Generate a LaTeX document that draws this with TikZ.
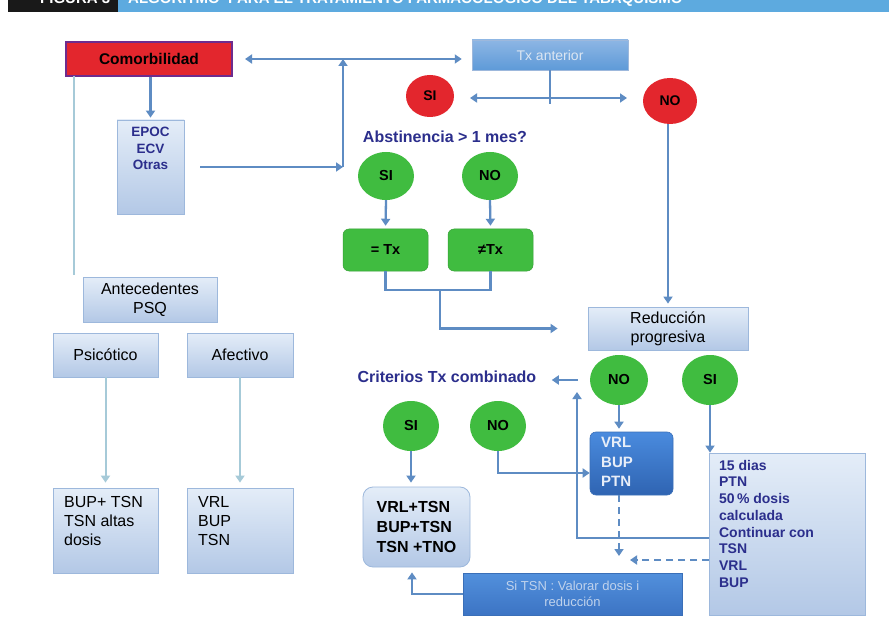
\documentclass[tikz,border=0pt]{standalone}
\usepackage{fontspec}
\setmainfont{Liberation Sans}
\usetikzlibrary{arrows.meta,shapes.geometric,calc}
\definecolor{arrc}{HTML}{5E8CC3}
\definecolor{litec}{HTML}{A6CAD8}
\definecolor{redc}{HTML}{E3262D}
\definecolor{purpc}{HTML}{6E2C8E}
\definecolor{greenc}{HTML}{40BC40}
\definecolor{dkblue}{HTML}{2B2E8C}
\definecolor{boxtop}{HTML}{E4EDF8}
\definecolor{boxbot}{HTML}{B3C8E6}
\definecolor{boxdraw}{HTML}{9DB8DC}
\definecolor{hdrblue}{HTML}{5DAADF}
\definecolor{txtop}{HTML}{8DB6E4}
\definecolor{txbot}{HTML}{5E9AD8}
\definecolor{txtext}{HTML}{DCE6F2}
\definecolor{dkdraw}{HTML}{3A6FB8}
\definecolor{vbtop}{HTML}{4A8BDE}
\definecolor{vbbot}{HTML}{2F64B2}
\definecolor{vbtext}{HTML}{E8EEF8}
\definecolor{sttop}{HTML}{5290DC}
\definecolor{stbot}{HTML}{3C74C4}
\definecolor{sttext}{HTML}{BFD2EC}
\begin{document}
\begin{tikzpicture}[x=1pt,y=-1pt,
  arr/.style={draw=arrc,line width=2.3pt,-{Triangle[length=7pt,width=9pt]}},
  arrtwo/.style={draw=arrc,line width=2.3pt,{Triangle[length=7pt,width=9pt]}-{Triangle[length=7pt,width=9pt]}},
  plainln/.style={draw=arrc,line width=2.3pt},
  lite/.style={draw=litec,line width=2pt},
  litearr/.style={draw=litec,line width=2pt,-{Triangle[length=7pt,width=9pt]}},
  lbox/.style={draw=boxdraw,line width=0.8pt,top color=boxtop,bottom color=boxbot,inner sep=2pt},
  redball/.style={ellipse,fill=redc,inner sep=0pt,font=\bfseries\fontsize{14}{16}\selectfont},
  greenball/.style={ellipse,fill=greenc,inner sep=0pt,font=\bfseries\fontsize{14.5}{16}\selectfont},
  greenbox/.style={rectangle,rounded corners=6pt,fill=greenc,draw=greenc!85!black,line width=0.5pt,font=\bfseries\fontsize{14.5}{16}\selectfont},
  qtext/.style={text=dkblue,font=\bfseries\fontsize{16}{19}\selectfont},
]
\useasboundingbox (0,0) rectangle (889,631);
\clip (0,0) rectangle (889,631);
\fill[white] (0,0) rectangle (889,631);
% header
\fill[black!90] (8,-20) rectangle (118,12);
\fill[hdrblue] (118,-20) rectangle (889,12);
\node[anchor=base west,text=white,inner sep=0pt,font=\bfseries\fontsize{15}{15}\selectfont] (fig) at (40,4) {FIGURA 3};
\node[anchor=base west,text=white,inner sep=0pt,font=\bfseries\fontsize{15}{15}\selectfont] (ttl) at (128,4) {ALGORITMO \ PARA EL TRATAMIENTO FARMACOLÓGICO DEL TABAQUISMO};

% top row
\node[rectangle,fill=redc,draw=purpc,line width=2pt,minimum width=166pt,minimum height=34pt,font=\bfseries\fontsize{15.5}{17}\selectfont] (com) at (149,59) {Comorbilidad};
\node[lbox,minimum width=67pt,minimum height=94pt,
  label={[anchor=north,yshift=-4pt,text=dkblue,align=center,font=\bfseries\fontsize{13.5}{16.5}\selectfont]north:{EPOC\\ECV\\Otras}}] (epoc) at (150.5,167) {};
\node[rectangle,draw=boxdraw,line width=0.5pt,top color=txtop,bottom color=txbot,minimum width=156pt,minimum height=30pt,text=txtext,font=\fontsize{14}{16}\selectfont] (txant) at (550,55) {Tx anterior};
\node[redball,minimum width=48pt,minimum height=42pt] (siR) at (430,96) {SI};
\node[redball,minimum width=54pt,minimum height=46pt] (noR) at (670,101) {NO};

% abstinencia
\node[qtext] (abst) at (445,137) {Abstinencia > 1 mes?};
\node[greenball,minimum width=56pt,minimum height=48pt] (siG1) at (386,176) {SI};
\node[greenball,minimum width=56pt,minimum height=48pt] (noG1) at (490,176) {NO};
\node[greenbox,minimum width=85pt,minimum height=42pt] (eqTx) at (385.5,250) {= Tx};
\node[greenbox,minimum width=85pt,minimum height=42pt] (neTx) at (490.5,250) {≠Tx};

% reduccion
\node[lbox,minimum width=160pt,minimum height=43pt,align=center,font=\fontsize{16}{19}\selectfont] (red) at (668,328.5) {Reducción\\progresiva};
\node[greenball,minimum width=58pt,minimum height=50pt] (noG2) at (619,380) {NO};
\node[greenball,minimum width=56pt,minimum height=50pt] (siG2) at (710,380) {SI};
\node[qtext,anchor=west] (crit) at (354,377) {Criterios Tx combinado};
\node[rectangle,rounded corners=6pt,draw=dkdraw,line width=0.6pt,top color=vbtop,bottom color=vbbot,minimum width=83pt,minimum height=63pt,
  label={[anchor=north west,xshift=8pt,yshift=-2pt,text=vbtext,align=left,font=\bfseries\fontsize{15}{19.5}\selectfont]north west:{VRL\\BUP\\PTN}}] (vbp) at (631.5,463.5) {};
\node[greenball,minimum width=56pt,minimum height=50pt] (siG3) at (411,426) {SI};
\node[greenball,minimum width=56pt,minimum height=50pt] (noG3) at (498,426) {NO};
\node[lbox,rounded corners=10pt,minimum width=107pt,minimum height=80pt,align=left,font=\bfseries\fontsize{16}{20}\selectfont] (vct) at (416.5,527) {VRL+TSN\\BUP+TSN\\TSN +TNO};
\node[rectangle,draw=dkdraw,line width=0.5pt,top color=sttop,bottom color=stbot,minimum width=219pt,minimum height=42pt,align=center,text=sttext,font=\fontsize{13}{16}\selectfont] (stsn) at (572.5,594) {Si TSN : Valorar dosis i\\reducción};
\node[lbox,minimum width=156pt,minimum height=162pt,
  label={[anchor=north west,xshift=7pt,yshift=-4pt,text=dkblue,align=left,font=\bfseries\fontsize{14}{16.7}\selectfont]north west:{15 dias\\PTN\\50\,\% dosis\\calculada\\Continuar con\\TSN\\VRL\\BUP}}] (dias) at (787,534) {};

% left column
\node[lbox,minimum width=134pt,minimum height=45pt,align=center,font=\fontsize{16}{19}\selectfont] (ant) at (150,299.5) {Antecedentes\\PSQ};
\node[lbox,minimum width=105pt,minimum height=44pt,font=\fontsize{16}{19}\selectfont] (psi) at (105.5,355) {Psicótico};
\node[lbox,minimum width=106pt,minimum height=44pt,font=\fontsize{16}{19}\selectfont] (afe) at (240,355) {Afectivo};
\node[lbox,minimum width=105pt,minimum height=85pt,
  label={[anchor=north west,xshift=8pt,yshift=-5pt,align=left,font=\fontsize{16}{19}\selectfont]north west:{BUP+ TSN\\TSN altas\\dosis}}] (bt) at (105.5,530.5) {};
\node[lbox,minimum width=106pt,minimum height=85pt,
  label={[anchor=north west,xshift=8pt,yshift=-5pt,align=left,font=\fontsize{16}{19}\selectfont]north west:{VRL\\BUP\\TSN}}] (vbt) at (240,530.5) {};

% coordinates
\coordinate (j1) at (343,167);
\coordinate (a1) at (470,98);
\coordinate (a2) at (627,98);
\coordinate (tk) at (550,104);
\coordinate (m) at (440,290);
\coordinate (lp) at (577,538);
\coordinate (lpt) at (577,392);
\coordinate (dj) at (619,556);
\coordinate (dd) at (709,560);
\coordinate (de) at (630,560);
\coordinate (lt) at (74,275);
\coordinate (ls) at (74,76);

% connectors
\draw[arr,shorten >=2pt] (epoc.north |- com.south) -- (epoc.north);
\draw[arr,shorten <=16pt] (epoc.east) -- (j1);
\draw[arr] (j1) -- (j1 |- com.east);
\draw[arrtwo,shorten <=12pt,shorten >=10pt] (com.east) -- (com.east -| txant.west);
\draw[arrtwo] (a1) -- (a2);
\draw[plainln] (txant.south) -- (tk);
\draw[arr,shorten >=3pt] (red.north |- noR.south) -- (red.north);
\draw[arr,shorten >=3pt] (siG1.south) -- (eqTx.north);
\draw[arr,shorten >=3pt] (noG1.south) -- (neTx.north);
\draw[plainln] (eqTx.south) |- (m) -| (neTx.south);
\draw[arr,shorten >=30pt] (m) |- (red.west);
\draw[arr,shorten >=3pt] (noG2.south) -- (noG2.south |- vbp.north);
\draw[arr] (siG2.south) -- (siG2.south |- dias.north);
\draw[arr,shorten <=12pt,shorten >=12pt] (noG2.west) -- (noG2.west -| crit.east);
\draw[arr] (dias.west |- lp) -- (lp) -- (lpt);
\draw[arr,shorten >=4pt] (siG3.south) -- (siG3.south |- vct.north);
\draw[arr] (noG3.south) |- ([yshift=-9.5pt]vbp.west);
\draw[arr,dashed,dash pattern=on 7pt off 5pt] (vbp.south -| noG2) -- (dj);
\draw[arr,dashed,dash pattern=on 7pt off 5pt] (dd) -- (de);
\draw[arr,shorten >=5pt] (stsn.west) -| ([xshift=-4.5pt]vct.south);
\draw[lite] (ls) -- (lt);
\draw[litearr,shorten >=5pt] (psi.south) -- (bt.north);
\draw[litearr,shorten >=5pt] (afe.south) -- (vbt.north);
\end{tikzpicture}
\end{document}
